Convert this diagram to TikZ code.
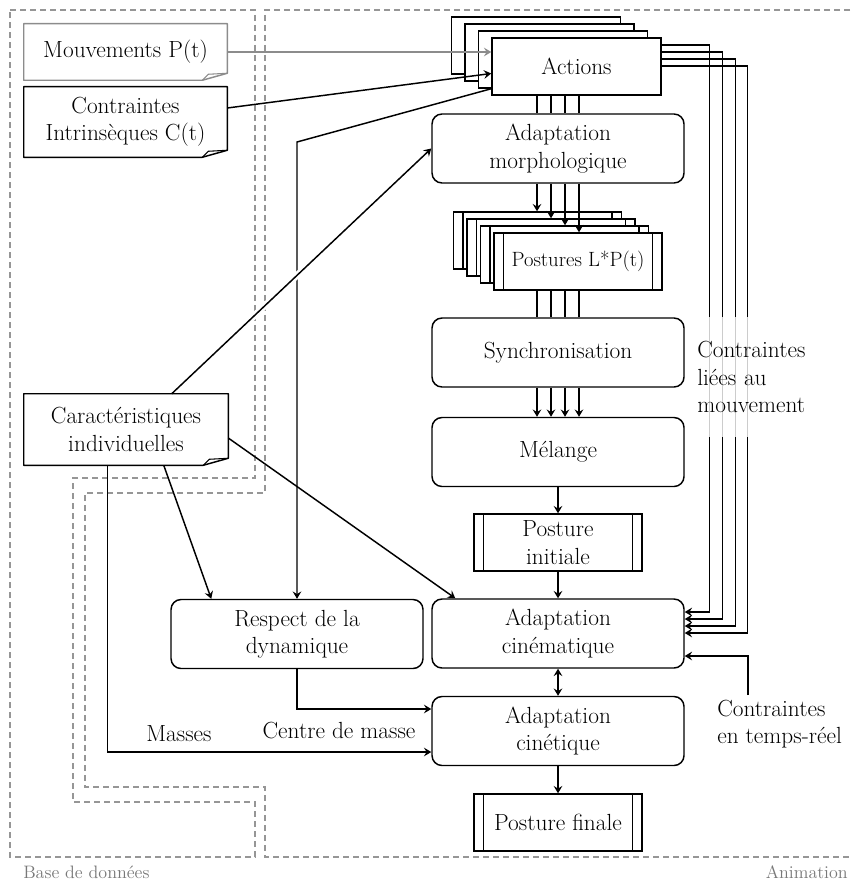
\documentclass[tikz,border=0pt]{standalone}
\usetikzlibrary{arrows.meta,calc}
\definecolor{regiongray}{RGB}{150,150,150}
\definecolor{mgray}{RGB}{140,140,140}
\definecolor{labgray}{RGB}{120,120,120}
\newcommand\foldbox[2]{%
  \draw[#2, line width=1.1pt, line join=round] (#1.north west) -- (#1.north east) -- ([yshift=5.25pt]#1.south east) -- ([xshift=-18.75pt]#1.south east) -- (#1.south west) -- cycle;
  \draw[#2, line width=0.8pt, line join=round] ([xshift=-18.75pt]#1.south east) -- ([xshift=-14.25pt,yshift=4.5pt]#1.south east) -- ([yshift=5.25pt]#1.south east);
}
\begin{document}
\begin{tikzpicture}[x=0.75pt,y=-0.75pt,
  font=\fontsize{17.5}{20.5}\selectfont,
  region/.style={draw=regiongray, line width=1pt, dash pattern=on 4.5pt off 3pt},
  box/.style={draw, line width=1.1pt, fill=white, align=center, inner sep=0pt},
  rbox/.style={box, rounded corners=7.5pt, minimum width=189pt, minimum height=51.75pt},
  abox/.style={box, minimum width=126.75pt, minimum height=42.75pt},
  pbox/.style={box, minimum width=126pt, minimum height=42.75pt,
    path picture={
      \draw[line width=1.1pt] ([xshift=7pt]path picture bounding box.north west) -- ([xshift=7pt]path picture bounding box.south west);
      \draw[line width=1.1pt] ([xshift=-7pt]path picture bounding box.north east) -- ([xshift=-7pt]path picture bounding box.south east);
    }},
  docbox/.style={align=center, inner sep=0pt, minimum width=152.25pt},
  ln/.style={line width=1.1pt},
  arr/.style={line width=1.1pt, -{Stealth[length=5.5pt,width=6.5pt,inset=2pt]}},
  arrtwo/.style={line width=1.1pt, {Stealth[length=5.5pt,width=6.5pt,inset=2pt]}-{Stealth[length=5.5pt,width=6.5pt,inset=2pt]}},
  lbl/.style={align=left, inner sep=0pt},
  reg/.style={text=labgray, font=\fontsize{13.5}{16}\selectfont, inner sep=0pt}
]
\useasboundingbox (0,0) rectangle (850,881);

% regions
\draw[region] (10,10) -- (255,10) -- (255,478) -- (73,478) -- (73,802) -- (255,802) -- (255,857) -- (10,857) -- cycle;
\draw[region] (850,10) -- (265,10) -- (265,493) -- (85,493) -- (85,787) -- (265,787) -- (265,857) -- (850,857);
\node[reg, anchor=west] (bdd) at (23,872) {Base de données};
\node[reg, anchor=east] (anim) at (848,872) {Animation};

% documents
\node[docbox, minimum height=42pt] (mouv) at (125.5,52) {Mouvements P(t)};
\foldbox{mouv}{mgray}
\node[docbox, minimum height=52.5pt] (cin) at (125.5,122) {Contraintes\\Intrinsèques C(t)};
\foldbox{cin}{black}
\node[docbox, minimum height=53.25pt, minimum width=153pt] (car) at (126,429.5) {Caractéristiques\\individuelles};
\foldbox{car}{black}

% actions stack
\node[abox] (act1) at (536,45.5) {};
\node[abox] (act2) at (549.5,52.5) {};
\node[abox] (act3) at (563,59.5) {};
\node[abox] (act) at (576.5,66.5) {Actions};

% main chain
\node[rbox] (morph) at (558,148.5) {Adaptation\\morphologique};
\node[pbox] (pst1) at (537.5,240.5) {};
\node[pbox] (pst2) at (551,247.5) {};
\node[pbox] (pst3) at (564.5,254.5) {};
\node[pbox, font=\fontsize{15.5}{18}\selectfont] (pst) at (578,261.5) {Postures L*P(t)};
\node[rbox] (sync) at (558,352.5) {Synchronisation};
\node[rbox] (mel) at (558,452) {Mélange};
\node[pbox] (pini) at (558,542.5) {Posture\\initiale};
\node[rbox] (kinem) at (558,633.5) {Adaptation\\cinématique};
\node[rbox] (kinet) at (558,731) {Adaptation\\cinétique};
\node[pbox] (pfin) at (558,822.5) {Posture finale};
\node[rbox] (resp) at (297,634) {Respect de la\\dynamique};

% four-line bundles
\foreach \d/\p in {-21/pst1,-7/pst2,7/pst3,21/pst}{
  \draw[ln] ($(morph.north |- act.south)+(\d,0)$) -- ($(morph.north)+(\d,0)$);
  \draw[arr] ($(morph.south)+(\d,0)$) -- ($(morph.south |- \p.north)+(\d,0)$);
  \draw[ln] ($(morph.south |- pst.south)+(\d,0)$) -- ($(sync.north)+(\d,0)$);
  \draw[arr] ($(sync.south)+(\d,0)$) -- ($(mel.north)+(\d,0)$);
}

% single arrows in chain
\draw[arr] (mel.south) -- (pini.north);
\draw[arr] (pini.south) -- (kinem.north);
\draw[arrtwo] (kinem.south) -- (kinet.north);
\draw[arr] (kinet.south) -- (pfin.north);

% constraints from actions to cinematique
\foreach \dy/\xx in {-21.5/709,-14.5/722,-7.5/735,-0.5/747}{
  \draw[arr] ($(act.east)+(0,\dy)$) -| ($(kinem.east)+(\xx-684,\dy)$) -- ($(kinem.east)+(0,\dy)$);
}
\node[lbl, fill=white, fill opacity=0.8, text opacity=1, minimum height=90pt, text width=88pt, anchor=west] (clm) at (697,377) {Contraintes\\liées au\\mouvement};

% real time constraints
\node[lbl, anchor=north west] (ctr) at (717,700) {Contraintes\\en temps-réel};
\coordinate (trs) at ($(ctr.north west)+(31,-5)$);
\draw[arr] (trs) |- ($(kinem.east)+(0,22.5)$);

% inputs to actions
\draw[arr, draw=mgray] (mouv.east) -- (act.west |- mouv.east);
\draw[arr] ($(cin.east)+(0,-14)$) -- ($(act.west)+(0,7)$);

% actions to respect
\draw[arr] ($(act.south west)+(0,-7)$) -- (297,142) -- (resp.north);

% characteristics
\draw[arr, preaction={draw=white, line width=5pt, -, shorten <=6pt, shorten >=8pt}] ($(car.north west)+(148,0)$) -- (morph.west);
\draw[arr] ($(car.east)+(0,8.5)$) -- ($(kinem.north west)+(24,0)$);
\draw[arr] ($(car.south west)+(140,0)$) -- ($(resp.north west)+(41,0)$);
\draw[arr] ($(car.south west)+(84,0)$) |- ($(kinet.west)+(0,21)$) node[pos=0.61, above=4pt] (mas) {Masses};
\draw[arr] (resp.south) |- ($(kinet.west)+(0,-22)$) node[pos=1, anchor=north east, xshift=-8pt, yshift=-6pt] (cdm) {Centre de masse};
\end{tikzpicture}
\end{document}
